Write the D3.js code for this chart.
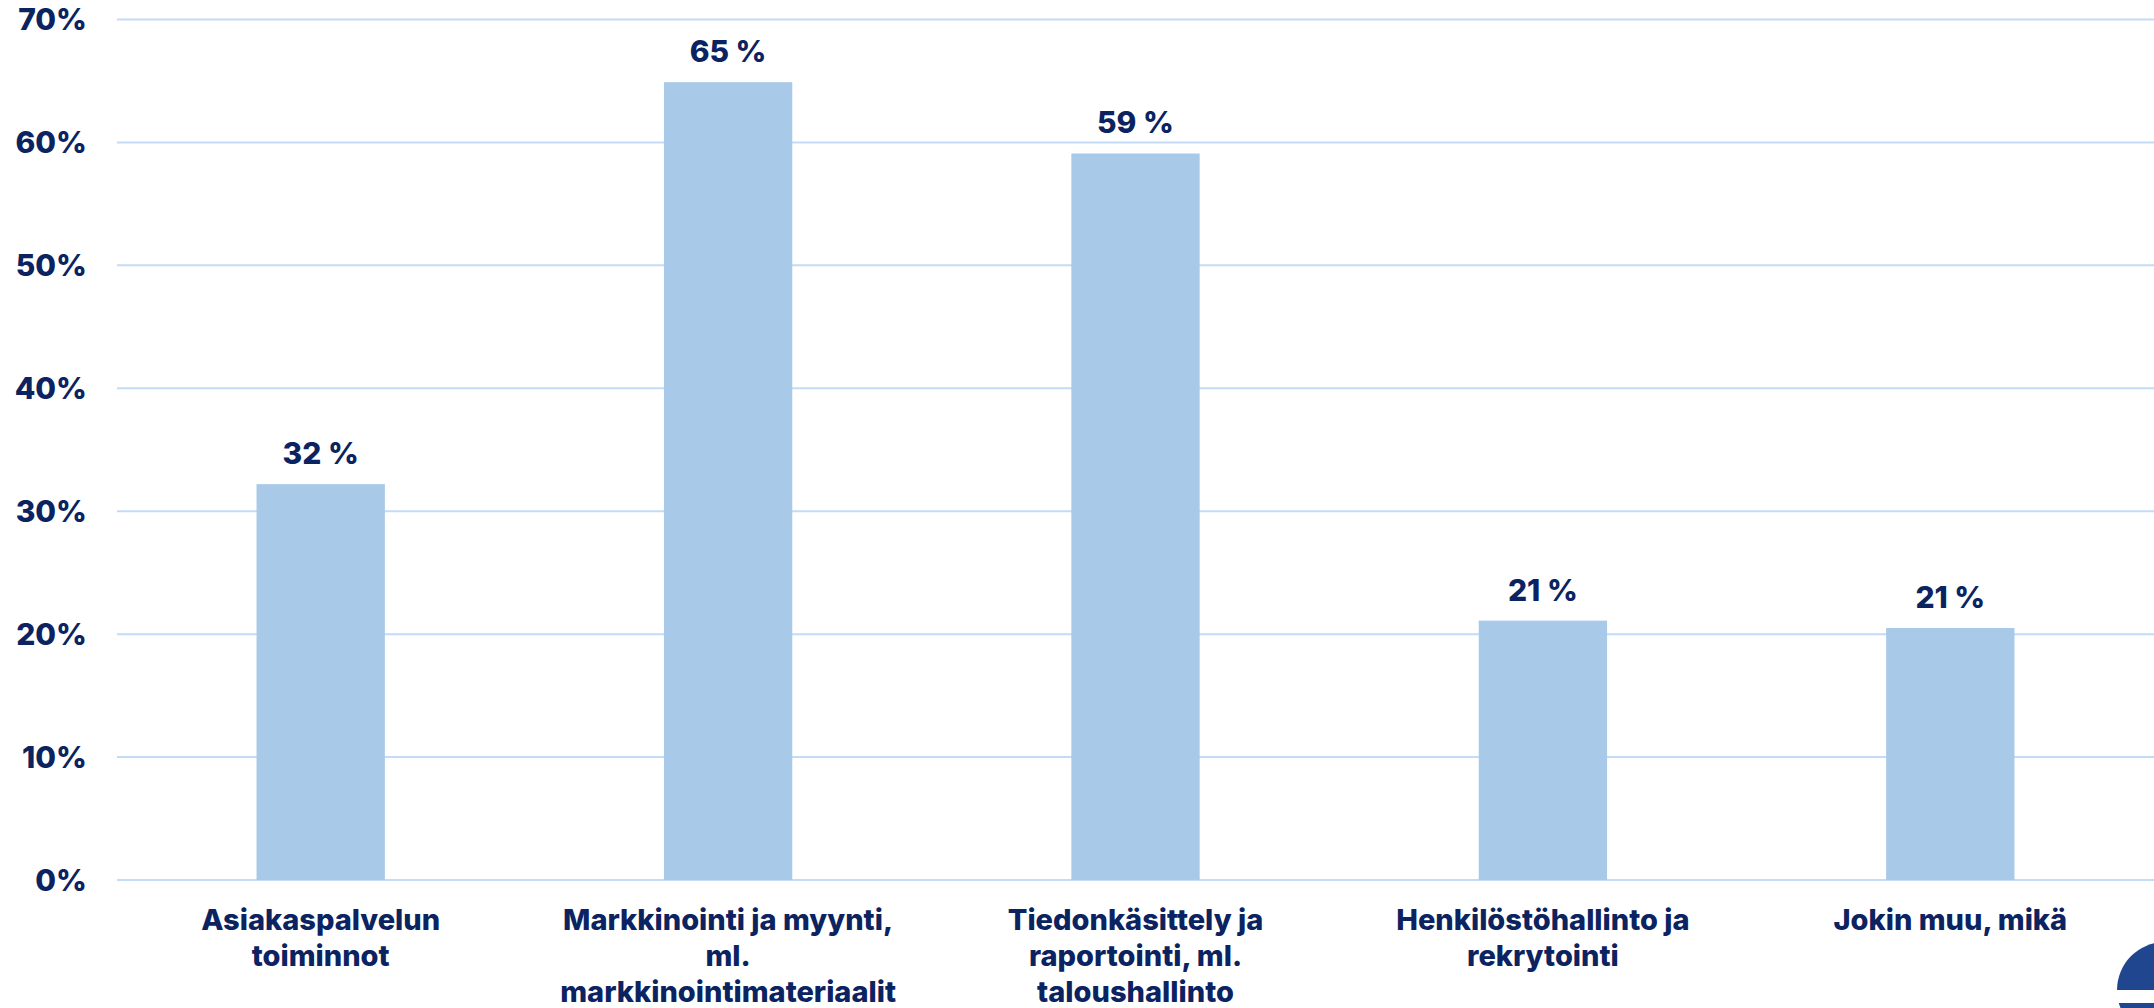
<!DOCTYPE html>
<html>
<head>
<meta charset="utf-8">
<title></title>
<script src="https://cdn.jsdelivr.net/npm/d3@7"></script>
<style>
body { margin: 0; background: #fff; }
text { fill: #0b2360; font-family: Inter, "Open Sans", sans-serif; font-weight: 800; }
.grid line { stroke: #c4dbf7; stroke-width: 2px; }
</style>
</head>
<body>
<script>

// data
var categories = [
  "Asiakaspalvelun toiminnot",
  "Markkinointi ja myynti, ml. markkinointimateriaalit",
  "Tiedonkäsittely ja raportointi, ml. taloushallinto",
  "Henkilöstöhallinto ja rekrytointi",
  "Jokin muu, mikä"
];
var labelLines = [
  ["Asiakaspalvelun", "toiminnot"],
  ["Markkinointi ja myynti,", "ml.", "markkinointimateriaalit"],
  ["Tiedonkäsittely ja", "raportointi, ml.", "taloushallinto"],
  ["Henkilöstöhallinto ja", "rekrytointi"],
  ["Jokin muu, mikä"]
];
var values = [32.2, 64.9, 59.1, 21.1, 20.5];
var yTicks = [0, 10, 20, 30, 40, 50, 60, 70];

var width = 2154,
    height = 1008;
var plotLeft = 117, plotRight = 2154, plotTop = 19.5, plotBottom = 880;

var svg = d3.select("body").append("svg")
    .attr("width", width)
    .attr("height", height);

var x = d3.scaleBand()
    .domain(categories)
    .range([plotLeft, plotRight])
    .paddingInner(0.685)
    .paddingOuter(0.3425);

var y = d3.scaleLinear()
    .domain([0, 70])
    .range([plotBottom, plotTop]);

// gridlines
svg.append("g")
    .attr("class", "grid")
    .selectAll("line")
    .data(yTicks)
    .enter().append("line")
    .attr("x1", plotLeft)
    .attr("x2", plotRight)
    .attr("y1", function(d) { return y(d); })
    .attr("y2", function(d) { return y(d); });

// y labels
svg.append("g")
    .selectAll("text")
    .data(yTicks)
    .enter().append("text")
    .attr("x", 87)
    .attr("y", function(d) { return y(d); })
    .attr("dy", "0.36em")
    .attr("text-anchor", "end")
    .style("font-size", "30px")
    .text(function(d) { return d + "%"; });

// bars
svg.append("g")
    .selectAll("rect")
    .data(values)
    .enter().append("rect")
    .attr("x", function(d, i) { return x(categories[i]); })
    .attr("y", function(d) { return y(d); })
    .attr("width", x.bandwidth())
    .attr("height", function(d) { return y(0) - y(d); })
    .style("fill", "#a8c9e7");

// value labels
svg.append("g")
    .selectAll("text")
    .data(values)
    .enter().append("text")
    .attr("x", function(d, i) { return x(categories[i]) + x.bandwidth() / 2; })
    .attr("y", function(d) { return y(d) - 20; })
    .attr("text-anchor", "middle")
    .style("font-size", "30px")
    .text(function(d) { return Math.round(d) + " %"; });

// category labels
var cat = svg.append("g")
    .selectAll("text")
    .data(labelLines)
    .enter().append("text")
    .attr("text-anchor", "middle")
    .style("font-size", "29px");

cat.each(function(lines, i) {
  var cx = x(categories[i]) + x.bandwidth() / 2;
  d3.select(this).selectAll("tspan")
    .data(lines)
    .enter().append("tspan")
    .attr("x", cx)
    .attr("y", function(d, j) { return 930 + j * 36; })
    .text(function(d) { return d; });
});

// corner logo piece
var clip = svg.append("clipPath").attr("id", "logoclip");
clip.append("rect").attr("x", 0).attr("y", 0).attr("width", width).attr("height", 990);
clip.append("rect").attr("x", 0).attr("y", 1003).attr("width", width).attr("height", 10);
svg.append("circle")
    .attr("cx", 2165)
    .attr("cy", 990)
    .attr("r", 48)
    .attr("clip-path", "url(#logoclip)")
    .style("fill", "#20468f");

</script>
</body>
</html>
